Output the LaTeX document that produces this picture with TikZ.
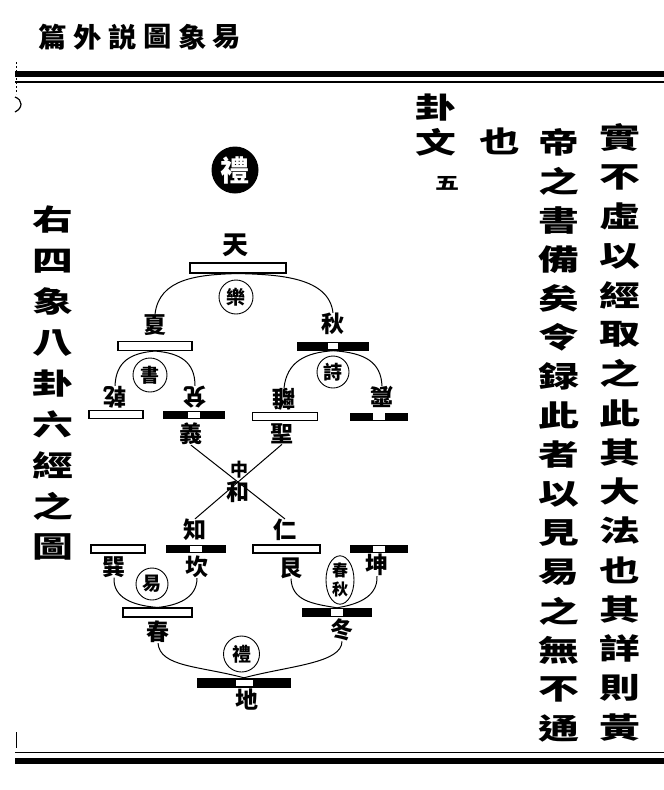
\documentclass[tikz,border=0pt]{standalone}
\usepackage{fontspec}
\usepackage{graphicx}
\newfontfamily\cjk{Noto Sans CJK TC}
\usetikzlibrary{calc,shapes.geometric}
\newcommand{\widechar}[1]{\scalebox{1.2}[0.85]{#1}}
\tikzset{
  lab/.style={font=\cjk\bfseries\fontsize{23}{23}\selectfont, inner sep=0pt},
  inv/.style={lab, rotate=180},
  colchar/.style={font=\cjk\bfseries\fontsize{34}{34}\selectfont, inner sep=0pt},
  headchar/.style={font=\cjk\bfseries\fontsize{27}{27}\selectfont, inner sep=0pt},
  yang/.style={draw=black, fill=white, line width=1.1pt, inner sep=0pt},
  yin/.style={fill=black, inner sep=0pt,
    path picture={\fill[white] ($(path picture bounding box.center)+(-#1/2,-3.2)$) rectangle ($(path picture bounding box.center)+(#1/2,3.2)$);}},
  yin/.default=12,
  circ/.style={draw=black, circle, line width=0.9pt, inner sep=0pt, minimum size=34pt, font=\cjk\bfseries\fontsize{19}{19}\selectfont},
  conn/.style={draw=black, line width=1pt},
  rule/.style={draw=black}
}
\begin{document}
\begin{tikzpicture}[x=1pt,y=-1pt]
\useasboundingbox (0,0) rectangle (664,790);
% header
\foreach \c [count=\i from 0] in {篇,外,説,圖,象,易}
  \node[headchar] (h\i) at ({53+34.8*\i},37) {\scalebox{1.05}[1.0]{\c}};
% rules
\draw[rule, line width=6pt] (15,73.5) -- (664,73.5);
\draw[rule, line width=1.5pt] (15,82) -- (664,82);
\draw[rule, line width=1.5pt] (15,752.5) -- (664,752.5);
\draw[rule, line width=5.5pt] (15,761) -- (664,761);
\draw[rule, line width=1pt, dash pattern=on 2pt off 2pt] (16,62) -- (16,94);
\draw[rule, line width=1.2pt] (15,97) .. controls (23,100) and (23,108) .. (15,112);
\draw[rule, line width=1pt] (16,732) -- (16,748);
% right columns
\foreach \c [count=\i from 0] in {實,不,虛,以,經,取,之,此,其,大,法,也,其,詳,則,黃}
  \node[colchar] (ra\i) at (620,{138+39.3*\i}) {\widechar{\c}};
\foreach \c [count=\i from 0] in {帝,之,書,備,矣,令,録,此,者,以,見,易,之,無,不,通}
  \node[colchar] (rb\i) at (559,{142+39.1*\i}) {\widechar{\c}};
\node[colchar] (ye) at (500,141) {\widechar{也}};
\node[colchar] (gua) at (436,108) {\widechar{卦}};
\node[colchar] (wen) at (436,142) {\widechar{文}};
\node[font=\cjk\bfseries\fontsize{20}{20}\selectfont, inner sep=0pt] (wu) at (447,183) {\widechar{五}};
% left column
\foreach \c [count=\i from 0] in {右,四,象,八,卦,六,經,之,圖}
  \node[colchar] (l\i) at (53,{220+40.9*\i}) {\widechar{\c}};
% diagram
\node[circle, fill=black, minimum size=47pt, inner sep=0pt, text=white, font=\cjk\bfseries\fontsize{29}{29}\selectfont] (litop) at (235,170) {禮};
\node[lab, font=\cjk\bfseries\fontsize{26}{26}\selectfont] (tian) at (235,245) {天};
\node[yang, minimum width=96pt, minimum height=10pt] (tianbar) at (238,268) {};
\node[circ] (yue) at (236,297) {樂};
\node[lab] (xia) at (155,325) {夏};
\node[lab] (qiu) at (333,324) {秋};
\node[yang, minimum width=74pt, minimum height=9pt] (xiabar) at (155,346) {};
\node[yin=10, minimum width=72pt, minimum height=9pt] (qiubar) at (333,346) {};
\node[circ] (shu) at (150,375) {書};
\node[circ, minimum size=32pt] (shi) at (333,372) {詩};
\node[inv] (qian) at (115,397) {乾};
\node[inv] (dui) at (195,397) {兌};
\node[inv] (li) at (284,399) {離};
\node[inv] (zhen) at (382,397) {震};
\node[yang, minimum width=54pt, minimum height=8pt] (qianbar) at (116,414.5) {};
\node[yin, minimum width=62pt, minimum height=8pt] (duibar) at (194,415) {};
\node[yang, minimum width=65pt, minimum height=8pt] (libar) at (285,416.5) {};
\node[yin, minimum width=58pt, minimum height=8pt] (zhenbar) at (379,416.5) {};
\node[lab] (yi) at (191,434) {義};
\node[lab] (sheng) at (282,434) {聖};
\node[lab, font=\cjk\bfseries\fontsize{18}{18}\selectfont] (zhong) at (239,470) {中};
\node[lab] (he) at (238,492) {和};
\node[lab] (zhi) at (195,530) {知};
\node[lab] (ren) at (285,530) {仁};
\node[yang, minimum width=54pt, minimum height=8pt] (xunbar) at (118,549) {};
\node[yin, minimum width=60pt, minimum height=8pt] (kanbar) at (196,549) {};
\node[yang, minimum width=67pt, minimum height=8pt] (genbar) at (286.5,549) {};
\node[yin, minimum width=58pt, minimum height=8pt] (kunbar) at (379,549) {};
\node[lab] (xun) at (114,567) {巽};
\node[lab] (kan) at (197,567) {坎};
\node[lab] (gen) at (291,568) {艮};
\node[lab] (kun) at (377,565) {坤};
\node[circ, minimum size=32pt] (yisub) at (152,584) {易};
\node[draw=black, ellipse, line width=0.9pt, inner sep=0pt, minimum width=28pt, minimum height=46pt, align=center, font=\cjk\bfseries\fontsize{16}{19}\selectfont] (chunqiu) at (340,580) {春\\秋};
\node[yang, minimum width=69pt, minimum height=9pt] (chunbar) at (157.5,612.5) {};
\node[yin, minimum width=70pt, minimum height=9pt] (dongbar) at (337,612.5) {};
\node[lab] (chun) at (158,632) {春};
\node[lab] (dong) at (342,630) {冬};
\node[circ, minimum size=36pt] (libot) at (241.5,654) {禮};
\node[yin=17, minimum width=94pt, minimum height=10pt] (dibar) at (244,683) {};
\node[lab] (di) at (247,700) {地};
% connectors
\draw[conn] (tianbar.south) .. controls +(-40,1) and +(4,-36) .. (xia.north);
\draw[conn] (tianbar.south) .. controls +(40,1) and +(-4,-36) .. (qiu.north);
\draw[conn] (xiabar.south) .. controls +(-25,2) and +(1,-24) .. (qian.south);
\draw[conn] (xiabar.south) .. controls +(25,2) and +(0,-24) .. (dui.south);
\draw[conn] (qiubar.south) .. controls +(-28,2) and +(3,-26) .. (li.south);
\draw[conn] (qiubar.south) .. controls +(32,2) and +(-1,-24) .. (zhen.south);
\draw[conn] (yi.south) -- (ren.north);
\draw[conn] (sheng.south) -- (zhi.north);
\draw[conn] (xun.south) .. controls +(-1,20) and +(-25,-2) .. (chunbar.north);
\draw[conn] (kan.south) .. controls +(0,20) and +(20,-2) .. (chunbar.north);
\draw[conn] (gen.south) .. controls +(1,22) and +(-25,-4) .. (dongbar.north);
\draw[conn] (kun.south) .. controls +(1,22) and +(18,-3) .. (dongbar.north);
\draw[conn] (chun.south) .. controls +(2,24) and +(-45,-12) .. (dibar.north);
\draw[conn] (dong.south) .. controls +(0,22) and +(45,-12) .. (dibar.north);
\end{tikzpicture}
\end{document}
